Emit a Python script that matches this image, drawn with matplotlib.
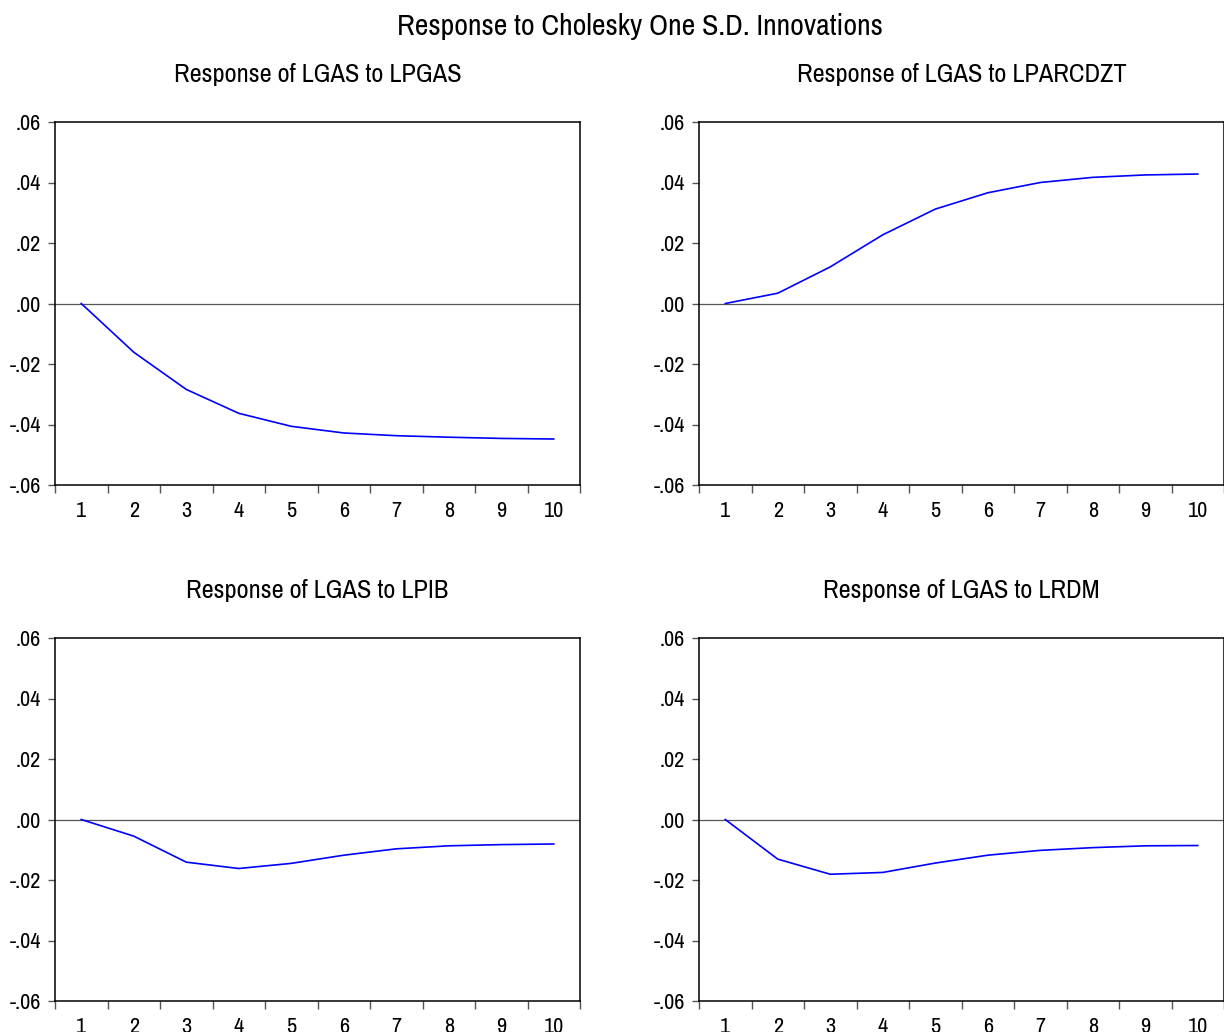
import matplotlib

matplotlib.use("Agg")

import matplotlib.pyplot as plt
from matplotlib import font_manager
from matplotlib.ticker import FixedLocator, FixedFormatter

# impulse responses, periods 1..10
periods = list(range(1, 11))
resp_lpgas = [0.0, -0.0161, -0.0284, -0.0363, -0.0406, -0.0428, -0.0437, -0.0442, -0.0446, -0.0448]
resp_lparcdzt = [0.0, 0.0034, 0.0121, 0.0227, 0.0312, 0.0366, 0.0400, 0.0417, 0.0425, 0.0428]
resp_lpib = [0.0, -0.0055, -0.0141, -0.0162, -0.0145, -0.0118, -0.0097, -0.0087, -0.0083, -0.0081]
resp_lrdm = [0.0, -0.0131, -0.0181, -0.0175, -0.0144, -0.0118, -0.0102, -0.0093, -0.0087, -0.0086]

panel_titles = [
    "Response of LGAS to LPGAS",
    "Response of LGAS to LPARCDZT",
    "Response of LGAS to LPIB",
    "Response of LGAS to LRDM",
]
main_title = "Response to Cholesky One S.D. Innovations"
y_ticks = [-0.06, -0.04, -0.02, 0.0, 0.02, 0.04, 0.06]
y_tick_labels = ["-.06", "-.04", "-.02", ".00", ".02", ".04", ".06"]

# EViews uses a narrow Arial; take a condensed face if one is installed
installed = sorted({f.name for f in font_manager.fontManager.ttflist})
narrow = [n for n in installed if "Narrow" in n or "Condensed" in n]
if narrow:
    family = narrow[0]
    main_size, title_size, tick_size = 21.5, 19, 16
else:
    family = "Liberation Sans"
    main_size, title_size, tick_size = 17.8, 15.7, 14.2
plt.rcParams["font.family"] = [family, "DejaVu Sans"]

W, H = 1224, 1032
fig = plt.figure(figsize=(W / 100, H / 100), dpi=100)


def px_axes(left, top, right, bottom):
    return fig.add_axes([left / W, 1 - bottom / H, (right - left) / W, (bottom - top) / H])


boxes = [
    (55, 122, 580, 485),
    (699, 122, 1224, 485),
    (55, 638, 580, 1001),
    (699, 638, 1224, 1001),
]
series = [resp_lpgas, resp_lparcdzt, resp_lpib, resp_lrdm]

for box, values, title in zip(boxes, series, panel_titles):
    ax = px_axes(*box)
    ax.axhline(0.0, color="#555555", lw=0.9, zorder=1)
    ax.plot(periods, values, color="#0000ff", lw=1.2, zorder=2)
    ax.set_xlim(0.5, len(periods) + 0.5)
    ax.set_ylim(-0.06, 0.06)
    ax.yaxis.set_major_locator(FixedLocator(y_ticks))
    ax.yaxis.set_major_formatter(FixedFormatter(y_tick_labels))
    ax.xaxis.set_major_locator(FixedLocator(periods))
    ax.xaxis.set_minor_locator(FixedLocator([p + 0.5 for p in periods[:-1]] + [0.5, 10.5]))
    ax.set_xticklabels([str(p) for p in periods])
    ax.tick_params(axis="x", which="major", length=0, pad=11.5, labelsize=tick_size)
    ax.tick_params(axis="x", which="minor", length=6, width=1.0, color="#555555", direction="out")
    ax.tick_params(axis="y", length=5, width=1.0, color="#555555", direction="out", pad=5,
                   labelsize=tick_size)
    for spine in ax.spines.values():
        spine.set_linewidth(1.1)
        spine.set_color("black")
    cx = (box[0] + box[2]) / 2
    fig.text(cx / W, 1 - (box[1] - 47) / H, title, ha="center", va="center", fontsize=title_size)

fig.text(640 / W, 1 - 26 / H, main_title, ha="center", va="center", fontsize=main_size)

fig.savefig("out.png", dpi=100, facecolor="white")
